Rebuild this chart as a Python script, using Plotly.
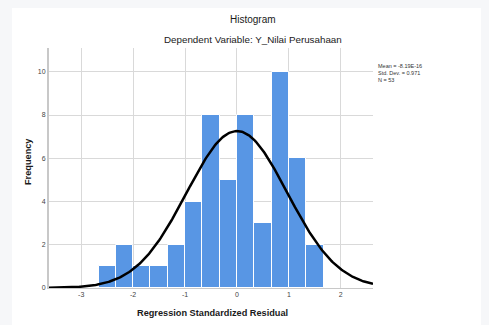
import numpy as np
import plotly.graph_objects as go

# Histogram data (bin edges width 1/3)
bin_left = [-8/3, -7/3, -2, -5/3, -4/3, -1, -2/3, -1/3, 0, 1/3, 2/3, 1, 4/3]
counts = [1, 2, 1, 1, 2, 4, 8, 5, 8, 3, 10, 6, 2]
bin_width = 1/3
mean = -8.19e-16
std = 0.971
n = 53
x_ticks = [-3, -2, -1, 0, 1, 2]
y_ticks = [0, 2, 4, 6, 8, 10]

centers = [b + bin_width / 2 for b in bin_left]
xc = np.linspace(-3.62, 2.62, 300)
yc = n * bin_width / (std * np.sqrt(2 * np.pi)) * np.exp(-0.5 * ((xc - mean) / std) ** 2)

OFF = 8  # browser body margin
W, H = 489 - OFF, 325 - OFF
# plot area in page pixel coordinates
L, R, T, B = 49, 373, 48, 288

fig = go.Figure()
fig.add_trace(go.Bar(x=centers, y=counts, width=bin_width,
                     marker=dict(color="#5896e4", line=dict(color="white", width=1)),
                     hoverinfo="skip"))
fig.add_trace(go.Scatter(x=xc, y=yc, mode="lines", line=dict(color="black", width=2.5),
                         hoverinfo="skip"))

font = "Liberation Sans, Arial, sans-serif"

def px(x):
    return (x - L) / (R - L)

def py(y):
    return (B - y) / (B - T)

def ann(text, x, y, size, **kw):
    d = dict(text=text, x=px(x), y=py(y), xref="paper", yref="paper", showarrow=False,
             xanchor="center", yanchor="middle", font=dict(size=size, color="#1a1a1a", family=font))
    d.update(kw)
    return d

fig.update_layout(
    width=W, height=H, showlegend=False, bargap=0,
    paper_bgcolor="white", plot_bgcolor="white",
    margin=dict(l=L - OFF, r=489 - R, t=T - OFF, b=325 - B, pad=0),
    font=dict(family=font, size=7, color="#444"),
    xaxis=dict(range=[-3.62, 2.62], tickvals=x_ticks, ticktext=[str(v) for v in x_ticks],
               showgrid=True, gridcolor="#d9d9d9", gridwidth=1, zeroline=False,
               showline=True, linecolor="#c8c8c8", linewidth=1, ticks="",
               tickfont=dict(size=7, color="#444")),
    yaxis=dict(range=[0, 11.1], tickvals=y_ticks, ticktext=[str(v) for v in y_ticks],
               showgrid=True, gridcolor="#d9d9d9", gridwidth=1, zeroline=False,
               showline=True, linecolor="#c8c8c8", linewidth=2, ticks="",
               tickfont=dict(size=7, color="#444")),
    shapes=[
        dict(type="rect", xref="paper", yref="paper", x0=px(0), x1=px(12), y0=py(330), y1=py(0),
             fillcolor="#f6f7f9", line=dict(width=0), layer="below"),
    ],
    annotations=[
        ann("Histogram", 253, 20, 10),
        ann("Dependent Variable: Y_Nilai Perusahaan", 253, 40, 9.8),
        ann("<b>Regression Standardized Residual</b>", 212, 313, 9.2),
        ann("<b>Frequency</b>", 28, 162, 9.2, textangle=-90),
        dict(text=f"Mean = {mean:.2E}<br>Std. Dev. = {std}<br>N = {n}", x=px(376), y=py(61),
             xref="paper", yref="paper", xanchor="left", yanchor="top", align="left",
             showarrow=False, font=dict(size=5.5, color="#333", family=font)),
    ],
)

fig.write_html("out.html", post_script="document.body.style.background='#f6f7f9';")
